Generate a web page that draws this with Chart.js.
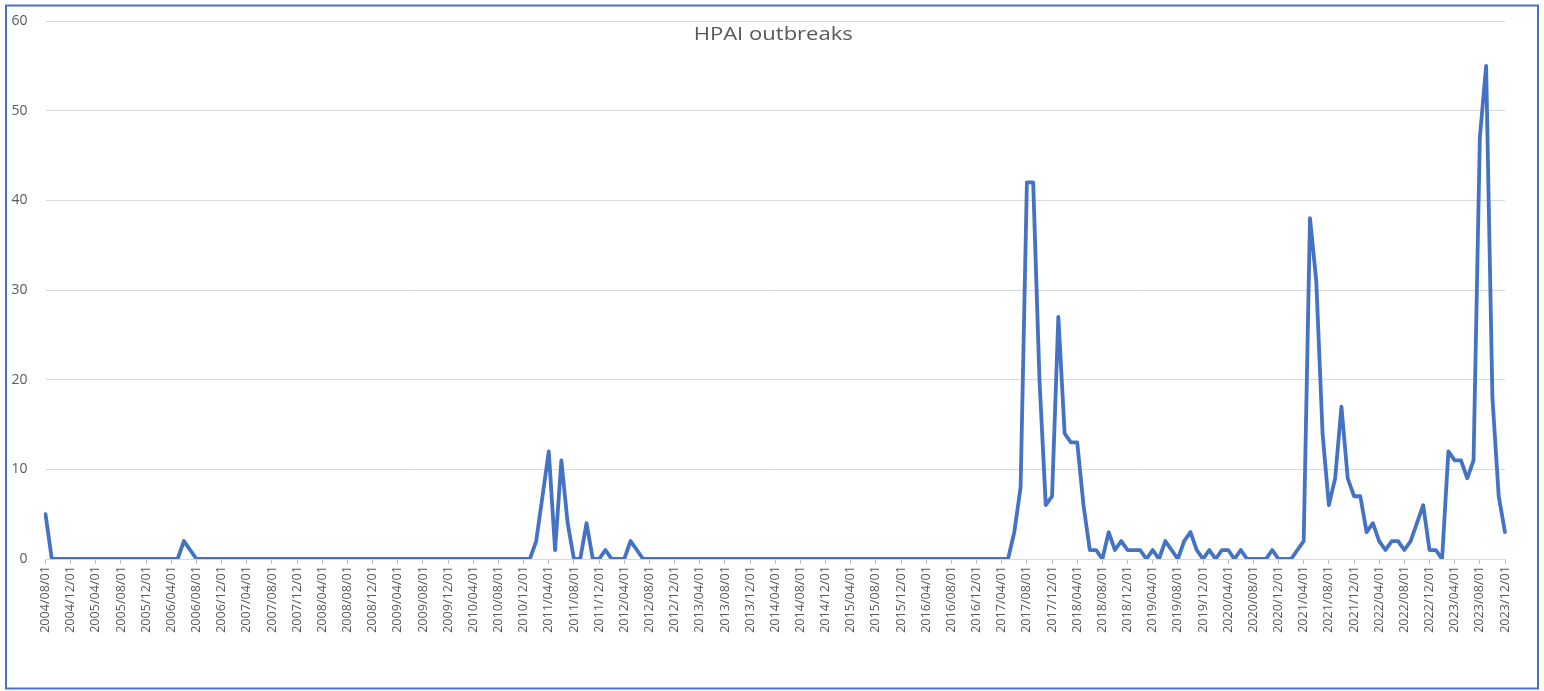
<!DOCTYPE html>
<html>
<head>
<meta charset="utf-8">
<title>HPAI outbreaks</title>
<script src="https://cdn.jsdelivr.net/npm/chart.js@4.4.1/dist/chart.umd.min.js"></script>
<style>
  html, body { margin: 0; padding: 0; background: #ffffff; }
  canvas { display: block; }
</style>
</head>
<body>
<canvas id="chart" width="1544" height="691"></canvas>
<script>
// Monthly HPAI outbreak counts, August 2004 to December 2023
const outbreaks2004 = [5, 0, 0, 0, 0];                          // Aug–Dec
const outbreaks2005 = [0, 0, 0, 0, 0, 0, 0, 0, 0, 0, 0, 0];
const outbreaks2006 = [0, 0, 0, 0, 0, 2, 1, 0, 0, 0, 0, 0];
const outbreaks2007 = [0, 0, 0, 0, 0, 0, 0, 0, 0, 0, 0, 0];
const outbreaks2008 = [0, 0, 0, 0, 0, 0, 0, 0, 0, 0, 0, 0];
const outbreaks2009 = [0, 0, 0, 0, 0, 0, 0, 0, 0, 0, 0, 0];
const outbreaks2010 = [0, 0, 0, 0, 0, 0, 0, 0, 0, 0, 0, 0];
const outbreaks2011 = [0, 2, 7, 12, 1, 11, 4, 0, 0, 4, 0, 0];
const outbreaks2012 = [1, 0, 0, 0, 2, 1, 0, 0, 0, 0, 0, 0];
const outbreaks2013 = [0, 0, 0, 0, 0, 0, 0, 0, 0, 0, 0, 0];
const outbreaks2014 = [0, 0, 0, 0, 0, 0, 0, 0, 0, 0, 0, 0];
const outbreaks2015 = [0, 0, 0, 0, 0, 0, 0, 0, 0, 0, 0, 0];
const outbreaks2016 = [0, 0, 0, 0, 0, 0, 0, 0, 0, 0, 0, 0];
const outbreaks2017 = [0, 0, 0, 0, 0, 3, 8, 42, 42, 20, 6, 7];
const outbreaks2018 = [27, 14, 13, 13, 6, 1, 1, 0, 3, 1, 2, 1];
const outbreaks2019 = [1, 1, 0, 1, 0, 2, 1, 0, 2, 3, 1, 0];
const outbreaks2020 = [1, 0, 1, 1, 0, 1, 0, 0, 0, 0, 1, 0];
const outbreaks2021 = [0, 0, 1, 2, 38, 31, 14, 6, 9, 17, 9, 7];
const outbreaks2022 = [7, 3, 4, 2, 1, 2, 2, 1, 2, 4, 6, 1];
const outbreaks2023 = [1, 0, 12, 11, 11, 9, 11, 47, 55, 18, 7, 3];

const outbreaks = [].concat(
  outbreaks2004, outbreaks2005, outbreaks2006, outbreaks2007, outbreaks2008,
  outbreaks2009, outbreaks2010, outbreaks2011, outbreaks2012, outbreaks2013,
  outbreaks2014, outbreaks2015, outbreaks2016, outbreaks2017, outbreaks2018,
  outbreaks2019, outbreaks2020, outbreaks2021, outbreaks2022, outbreaks2023
);

// Month categories: first day of each month, starting 2004/08/01
const firstYear = 2004;
const firstMonth = 8;
const months = [];
for (let k = 0; k < outbreaks.length; k++) {
  const m = firstMonth - 1 + k;
  const y = firstYear + Math.floor(m / 12);
  const mm = String((m % 12) + 1).padStart(2, '0');
  months.push(y + '/' + mm + '/01');
}

// Axis labels shown every four months
const labelStep = 4;
const yTicks = [0, 10, 20, 30, 40, 50, 60];

const TEXT = '#595959';
const FONT = '"Open Sans", "Liberation Sans", sans-serif';

const titleAndFrame = {
  id: 'titleAndFrame',
  afterDraw(chart) {
    const ctx = chart.ctx;
    const area = chart.chartArea;
    ctx.save();
    // chart title, set inside the plot area
    ctx.fillStyle = TEXT;
    ctx.font = '19px ' + FONT;
    ctx.textAlign = 'center';
    ctx.textBaseline = 'alphabetic';
    const cx = (area.left + area.right) / 2 - 2;
    ctx.translate(cx, 40);
    ctx.scale(1.16, 1);
    ctx.fillText('HPAI outbreaks', 0, 0);
    ctx.restore();
    // outer frame
    ctx.save();
    ctx.strokeStyle = '#4472C4';
    ctx.lineWidth = 2;
    ctx.strokeRect(6, 5.5, 1532, 683);
    ctx.restore();
  }
};

new Chart(document.getElementById('chart'), {
  type: 'line',
  data: {
    labels: months,
    datasets: [{
      label: 'HPAI outbreaks',
      data: outbreaks,
      borderColor: '#4472C4',
      backgroundColor: '#4472C4',
      borderWidth: 3.8,
      pointRadius: 0,
      pointHoverRadius: 0,
      tension: 0,
      borderJoinStyle: 'round',
      borderCapStyle: 'round',
      fill: false
    }]
  },
  options: {
    responsive: false,
    animation: false,
    devicePixelRatio: 1,
    layout: { padding: { left: 0, right: 39, top: 21, bottom: 0 } },
    plugins: {
      legend: { display: false },
      title: { display: false },
      tooltip: { enabled: false }
    },
    scales: {
      x: {
        type: 'category',
        offset: false,
        grid: {
          drawOnChartArea: false,
          drawTicks: true,
          tickLength: 5,
          color: '#bfbfbf',
          lineWidth: 1
        },
        border: { display: true, color: '#d9d9d9', width: 1 },
        ticks: {
          autoSkip: false,
          minRotation: 90,
          maxRotation: 90,
          padding: 2,
          color: TEXT,
          font: { family: FONT, size: 12.6 }
        },
        afterBuildTicks(scale) {
          scale.ticks = scale.ticks.filter((t, i) => i % labelStep === 0);
        },
        afterFit(scale) { scale.height = 132; }
      },
      y: {
        min: yTicks[0],
        max: yTicks[yTicks.length - 1],
        afterBuildTicks(scale) {
          scale.ticks = yTicks.map(v => ({ value: v }));
        },
        grid: {
          color: '#d9d9d9',
          lineWidth: 1,
          drawTicks: true,
          tickLength: 18,
          tickColor: 'rgba(0,0,0,0)'
        },
        border: { display: false },
        ticks: {
          padding: 0,
          color: TEXT,
          font: { family: FONT, size: 14 }
        },
        afterFit(scale) { scale.width = 45.5; }
      }
    }
  },
  plugins: [titleAndFrame]
});
</script>
</body>
</html>
